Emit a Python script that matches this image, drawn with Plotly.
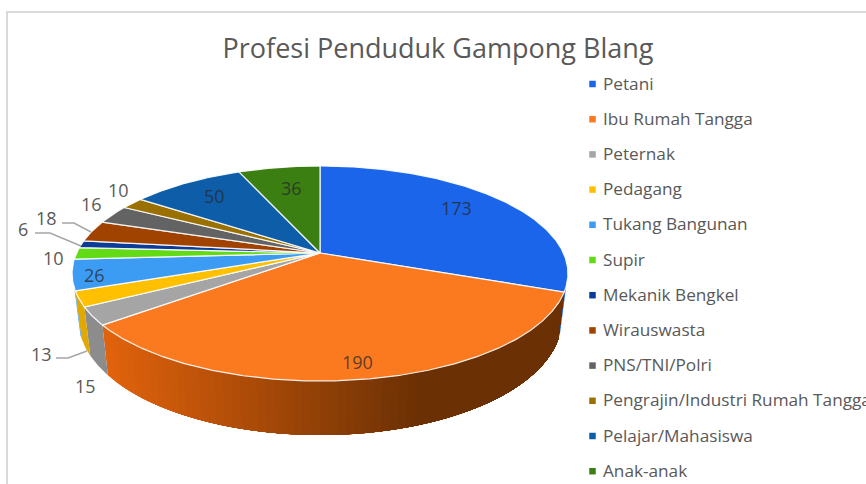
import numpy as np
import plotly.graph_objects as go

TITLE = "Profesi Penduduk Gampong Blang"
CATEGORIES = ["Petani", "Ibu Rumah Tangga", "Peternak", "Pedagang", "Tukang Bangunan", "Supir",
              "Mekanik Bengkel", "Wirauswasta", "PNS/TNI/Polri",
              "Pengrajin/Industri Rumah Tangga", "Pelajar/Mahasiswa", "Anak-anak"]
VALUES = [173, 190, 15, 13, 26, 10, 6, 18, 16, 10, 50, 36]
COLORS = ["#1A65EA", "#FB7A20", "#A5A5A5", "#FFC000", "#3C9BF3", "#62DA16",
          "#0A3C98", "#A04200", "#636363", "#9A7000", "#0D5DA8", "#3B7E12"]
WALL_COLORS = ["#1A65EA", "#E0620C", "#8C8C8C", "#E0A800", "#3C9BF3", "#62DA16",
               "#0A3C98", "#A04200", "#636363", "#9A7000", "#0D5DA8", "#3B7E12"]

# label placement in page pixels (layout, not data)
LABEL_POS = [(456, 208), (357, 362), (85, 386), (41, 354), (94, 275), (53, 258),
             (23, 229), (46, 218), (91, 204), (118, 190), (214, 196), (291, 188)]
LEADERS = [[(56, 358), (68, 358), (87, 351)],
           [(35, 233), (50, 233), (81, 246)],
           [(62, 223), (74, 223), (91, 232)]]
TEXT = "#595959"
FONT = "Open Sans"

W, H = 866, 484
CX, CY = 320, 253
B, A, K = 243.4, 103.6, 0.1907   # perspective ellipse


def top(theta):
    s, u = np.sin(theta), -np.cos(theta)
    d = 1 - K * u
    return CX + B * s / d, CY + A * u / d


def bottom(theta):
    x, y = top(theta)
    u = -np.cos(theta)
    return CX + (x - CX) * 0.975, y + 44 + 10 * u


def mix(c1, c2, t):
    a = [int(c1[i:i + 2], 16) for i in (1, 3, 5)]
    b = [int(c2[i:i + 2], 16) for i in (1, 3, 5)]
    return "rgb(%d,%d,%d)" % tuple(round(p + (q - p) * t) for p, q in zip(a, b))


edges = np.cumsum([0] + VALUES) / sum(VALUES) * 2 * np.pi
fig = go.Figure()


def wall(t0, t1, color, name):
    th = np.linspace(t0, t1, 60)
    tx, ty = top(th)
    bx, by = bottom(th)
    fig.add_trace(go.Scatter(x=np.r_[tx, bx[::-1]], y=np.r_[ty, by[::-1]], mode="lines", fill="toself",
                             fillcolor=color, line=dict(width=0), showlegend=False,
                             name=name, hoverinfo="skip"))


# side walls: only the near part of the rim shows
for i, name in enumerate(CATEGORIES):
    t0, t1 = edges[i], edges[i + 1]
    if name == "Ibu Rumah Tangga":
        # shaded in overlapping steps, left end to right end, so no seams appear
        steps = np.linspace(t1, t0, 71)
        for j in range(70):
            xm = top((steps[j] + steps[j + 1]) / 2)[0]
            t = min(1, max(0, (xm - 108) / (420 - 108)))
            wall(t0, steps[j], mix(WALL_COLORS[i], "#6B3004", t), name)
    elif name == "Petani":
        wall(t1 - np.radians(3), t1, WALL_COLORS[i], name)
    elif name == "Tukang Bangunan":
        wall(t0, t0 + np.radians(1.5), WALL_COLORS[i], name)
    elif name in ("Peternak", "Pedagang"):
        wall(t0, t1, WALL_COLORS[i], name)

# top face
for i, name in enumerate(CATEGORIES):
    th = np.linspace(edges[i], edges[i + 1], max(4, int(VALUES[i] * 1.5)))
    x, y = top(th)
    fig.add_trace(go.Scatter(x=np.r_[CX, x, CX], y=np.r_[CY, y, CY], mode="lines", fill="toself",
                             fillcolor=COLORS[i], line=dict(color="rgba(255,255,255,0.9)", width=1.2),
                             showlegend=False, name=name, hovertemplate="%s: %d<extra></extra>" % (name, VALUES[i])))

# legend rows
LEG_Y0, LEG_STEP = 84, 35.2
rows = [LEG_Y0 + LEG_STEP * i for i in range(len(CATEGORIES))]
fig.add_trace(go.Scatter(x=[592.5] * len(rows), y=rows, mode="markers", showlegend=False, hoverinfo="skip",
                         marker=dict(symbol="square", size=6.5, color=COLORS)))

shapes = [dict(type="rect", xref="x", yref="y", x0=7, y0=12, x1=W + 20, y1=H + 20,
               line=dict(color="#D9D9D9", width=2), layer="below")]
for pts in LEADERS:
    path = "M" + " L".join("%g,%g" % p for p in pts)
    shapes.append(dict(type="path", path=path, xref="x", yref="y", line=dict(color="#A6A6A6", width=1.5)))

annotations = []
for k, (v, (x, y)) in enumerate(zip(VALUES, LABEL_POS)):
    color = "rgba(40,40,40,0.75)" if k in (0, 1, 4, 10, 11) else TEXT
    annotations.append(dict(x=x, y=y, text=str(v), showarrow=False, xref="x", yref="y",
                            font=dict(family=FONT, size=18, color=color)))
for name, y in zip(CATEGORIES, rows):
    annotations.append(dict(x=601, y=y - 1, text=name, showarrow=False, xref="x", yref="y", xanchor="left",
                            font=dict(family=FONT, size=17.2, color=TEXT)))

fig.update_layout(
    width=W, height=H, autosize=False,
    margin=dict(l=0, r=0, t=0, b=0, autoexpand=False),
    paper_bgcolor="white", plot_bgcolor="white",
    title=dict(text=TITLE, x=438 / W, xanchor="center", y=1 - 49 / H, yanchor="middle",
               font=dict(family=FONT, size=27, color=TEXT)),
    xaxis=dict(range=[0, W], visible=False, fixedrange=True),
    yaxis=dict(range=[H, 0], visible=False, fixedrange=True),
    shapes=shapes, annotations=annotations,
    showlegend=False,
)
fig.write_html("out.html", config=dict(displayModeBar=False),
               post_script="document.body.style.margin='0';")
